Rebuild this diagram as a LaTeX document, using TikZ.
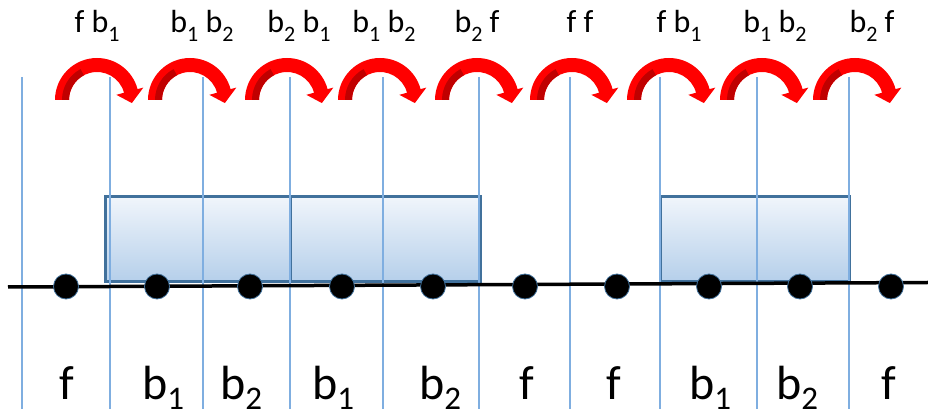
\documentclass[tikz,border=0pt]{standalone}
\usepackage{fontspec}
\setmainfont{Carlito}
\definecolor{gridblue}{HTML}{7FAEE0}
\definecolor{boxedge}{HTML}{41719C}
\definecolor{boxtop}{HTML}{F0F5FB}
\definecolor{boxbot}{HTML}{B5CFEA}
\definecolor{arrowred}{HTML}{FF0000}
\definecolor{arrowdark}{HTML}{C00000}
\newcommand\tsub[1]{\raisebox{-9pt}{\fontsize{22}{22}\selectfont #1}}
\newcommand\bsub[1]{\raisebox{-10pt}{\fontsize{33}{33}\selectfont #1}}
\begin{document}
\begin{tikzpicture}[x=1pt,y=1pt,
  gridline/.style={draw=gridblue,line width=1.2pt},
  carbox/.style={draw=boxedge,line width=3pt,top color=boxtop,bottom color=boxbot},
  track/.style={draw=black,line width=3.5pt},
  wheel/.style={circle,fill=black,draw=boxedge,line width=0.8pt,minimum size=25pt,inner sep=0pt},
  toplab/.style={anchor=base,inner sep=0pt,font=\fontsize{32}{38}\selectfont},
  botlab/.style={anchor=base,inner sep=0pt,font=\fontsize{48}{56}\selectfont},
  botlabw/.style={anchor=base west,inner sep=0pt,font=\fontsize{48}{56}\selectfont}]
\useasboundingbox (0,0) rectangle (928,417);
% cars
\path[carbox] (105,135) rectangle (290,220);
\path[carbox] (290,135) rectangle (480,220);
\path[carbox] (660,135) rectangle (849,220);
% grid lines
\foreach \gx in {22,110,203,290,383,479,570,660,757,849}
  \draw[gridline] (\gx,340) -- (\gx,8);
% track
\coordinate (tl) at (8,130);
\coordinate (tr) at (928,134.5);
\draw[track] (tl) -- (tr);
% wheels
\foreach \wx [count=\i] in {66,157,250,342,433,525,617,709,800,891}
  \node[wheel] (w\i) at (\wx,130.5) {};
% curved arrows
\foreach \cx in {97,190,287,380,477,572,669,762,855}{
  \begin{scope}[shift={(\cx,317)}]
    \fill[arrowred] (180:42) arc[start angle=180,end angle=15,radius=42]
      -- (15:48) -- (-5:35) -- (15:20) -- (15:28)
      arc[start angle=15,end angle=180,radius=28] -- cycle;
    \fill[arrowdark] (180:28) arc[start angle=180,end angle=118,radius=28]
      -- (118:35) arc[start angle=118,end angle=180,radius=35] -- cycle;
  \end{scope}
}
% top labels
\node[toplab] (t1) at (97,384) {f b\tsub{1}};
\node[toplab] (t2) at (202,384) {b\tsub{1} b\tsub{2}};
\node[toplab] (t3) at (299,384) {b\tsub{2} b\tsub{1}};
\node[toplab] (t4) at (384,384) {b\tsub{1} b\tsub{2}};
\node[toplab] (t5) at (477,384) {b\tsub{2} f};
\node[toplab] (t6) at (580,384) {f f};
\node[toplab] (t7) at (679,384) {f b\tsub{1}};
\node[toplab] (t8) at (775,384) {b\tsub{1} b\tsub{2}};
\node[toplab] (t9) at (872,384) {b\tsub{2} f};
% bottom labels
\node[botlab] (l1) at (67,17) {f};
\node[botlabw] (l2) at (142,17) {b\bsub{1}};
\node[botlabw] (l3) at (220,17) {b\bsub{2}};
\node[botlabw] (l4) at (312,17) {b\bsub{1}};
\node[botlabw] (l5) at (419,17) {b\bsub{2}};
\node[botlab] (l6) at (527,17) {f};
\node[botlab] (l7) at (614,17) {f};
\node[botlabw] (l8) at (689,17) {b\bsub{1}};
\node[botlabw] (l9) at (776,17) {b\bsub{2}};
\node[botlab] (l10) at (889,17) {f};
\end{tikzpicture}
\end{document}
